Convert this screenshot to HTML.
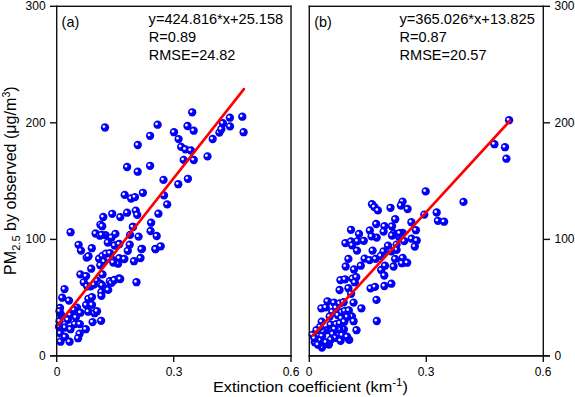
<!DOCTYPE html>
<html><head><meta charset="utf-8"><style>
html,body{margin:0;padding:0;background:#fff;}
svg{display:block;}
text{font-family:"Liberation Sans",sans-serif;fill:#000;}
</style></head><body>
<svg width="575" height="397" viewBox="0 0 575 397">
<defs>
<radialGradient id="g" cx="0.5" cy="0.5" r="0.5" fx="0.4" fy="0.4">
<stop offset="0" stop-color="#0000ff"/>
<stop offset="0.8" stop-color="#0000fa"/>
<stop offset="1" stop-color="#0000ea"/>
</radialGradient>
<radialGradient id="h" cx="0.5" cy="0.5" r="0.5">
<stop offset="0" stop-color="#fff" stop-opacity="1"/>
<stop offset="0.45" stop-color="#fff" stop-opacity="0.95"/>
<stop offset="1" stop-color="#fff" stop-opacity="0"/>
</radialGradient>
<symbol id="s" overflow="visible"><circle cx="0" cy="0.2" r="4.15" fill="url(#g)"/><circle cx="-1.1" cy="-0.7" r="1.9" fill="url(#h)"/></symbol>
</defs>
<rect width="575" height="397" fill="#fff"/>
<!-- points -->
<g><use href="#s" x="105.0" y="127.3"/><use href="#s" x="157.6" y="124.5"/><use href="#s" x="150.1" y="135.6"/><use href="#s" x="137.8" y="144.8"/><use href="#s" x="192.2" y="112.1"/><use href="#s" x="187.5" y="125.8"/><use href="#s" x="193.7" y="130.5"/><use href="#s" x="174.0" y="132.0"/><use href="#s" x="178.6" y="138.9"/><use href="#s" x="181.2" y="146.7"/><use href="#s" x="185.5" y="149.2"/><use href="#s" x="190.9" y="150.3"/><use href="#s" x="183.7" y="159.7"/><use href="#s" x="193.8" y="159.8"/><use href="#s" x="207.5" y="156.2"/><use href="#s" x="212.7" y="138.8"/><use href="#s" x="219.4" y="132.4"/><use href="#s" x="221.3" y="129.0"/><use href="#s" x="222.9" y="123.0"/><use href="#s" x="229.9" y="117.5"/><use href="#s" x="230.0" y="126.2"/><use href="#s" x="242.3" y="116.5"/><use href="#s" x="243.6" y="132.0"/><use href="#s" x="127.1" y="166.8"/><use href="#s" x="137.7" y="171.5"/><use href="#s" x="150.1" y="165.6"/><use href="#s" x="163.5" y="179.7"/><use href="#s" x="178.3" y="184.0"/><use href="#s" x="187.9" y="178.6"/><use href="#s" x="124.7" y="194.7"/><use href="#s" x="131.1" y="198.3"/><use href="#s" x="135.0" y="196.9"/><use href="#s" x="142.9" y="192.6"/><use href="#s" x="164.0" y="195.2"/><use href="#s" x="167.2" y="204.2"/><use href="#s" x="112.2" y="213.6"/><use href="#s" x="103.3" y="216.8"/><use href="#s" x="120.3" y="216.9"/><use href="#s" x="127.1" y="212.5"/><use href="#s" x="135.8" y="210.4"/><use href="#s" x="137.2" y="214.7"/><use href="#s" x="158.4" y="213.5"/><use href="#s" x="100.4" y="224.4"/><use href="#s" x="102.2" y="226.0"/><use href="#s" x="151.1" y="222.5"/><use href="#s" x="133.0" y="226.6"/><use href="#s" x="150.6" y="230.8"/><use href="#s" x="156.7" y="235.8"/><use href="#s" x="160.7" y="246.1"/><use href="#s" x="155.4" y="248.8"/><use href="#s" x="142.0" y="248.6"/><use href="#s" x="70.6" y="232.0"/><use href="#s" x="95.6" y="233.3"/><use href="#s" x="99.9" y="235.5"/><use href="#s" x="105.5" y="234.9"/><use href="#s" x="115.4" y="233.7"/><use href="#s" x="111.6" y="237.4"/><use href="#s" x="107.8" y="242.3"/><use href="#s" x="78.6" y="244.6"/><use href="#s" x="81.0" y="250.4"/><use href="#s" x="91.8" y="248.0"/><use href="#s" x="86.7" y="257.4"/><use href="#s" x="88.5" y="256.0"/><use href="#s" x="99.1" y="258.5"/><use href="#s" x="102.5" y="255.7"/><use href="#s" x="105.9" y="253.5"/><use href="#s" x="109.9" y="252.9"/><use href="#s" x="114.6" y="245.3"/><use href="#s" x="118.8" y="244.0"/><use href="#s" x="104.2" y="261.4"/><use href="#s" x="116.7" y="260.8"/><use href="#s" x="132.9" y="226.8"/><use href="#s" x="138.6" y="236.4"/><use href="#s" x="130.1" y="234.7"/><use href="#s" x="101.7" y="234.7"/><use href="#s" x="119.3" y="243.8"/><use href="#s" x="129.7" y="244.5"/><use href="#s" x="127.8" y="250.6"/><use href="#s" x="141.4" y="248.9"/><use href="#s" x="155.6" y="248.9"/><use href="#s" x="112.5" y="259.7"/><use href="#s" x="119.3" y="258.0"/><use href="#s" x="124.4" y="258.8"/><use href="#s" x="134.0" y="261.0"/><use href="#s" x="140.5" y="257.8"/><use href="#s" x="118.1" y="263.5"/><use href="#s" x="91.2" y="268.5"/><use href="#s" x="80.4" y="274.2"/><use href="#s" x="86.1" y="275.9"/><use href="#s" x="83.8" y="282.1"/><use href="#s" x="87.2" y="286.1"/><use href="#s" x="90.6" y="286.1"/><use href="#s" x="100.3" y="265.1"/><use href="#s" x="102.5" y="274.2"/><use href="#s" x="96.9" y="280.4"/><use href="#s" x="94.0" y="284.4"/><use href="#s" x="100.8" y="283.8"/><use href="#s" x="101.4" y="291.8"/><use href="#s" x="106.5" y="288.4"/><use href="#s" x="109.9" y="281.0"/><use href="#s" x="111.6" y="282.7"/><use href="#s" x="114.4" y="279.8"/><use href="#s" x="119.0" y="278.1"/><use href="#s" x="113.3" y="262.3"/><use href="#s" x="64.5" y="288.9"/><use href="#s" x="62.2" y="297.5"/><use href="#s" x="69.0" y="300.4"/><use href="#s" x="88.4" y="298.6"/><use href="#s" x="92.0" y="296.9"/><use href="#s" x="86.1" y="304.8"/><use href="#s" x="92.0" y="304.7"/><use href="#s" x="120.2" y="278.8"/><use href="#s" x="136.5" y="282.0"/><use href="#s" x="108.2" y="289.7"/><use href="#s" x="102.1" y="285.1"/><use href="#s" x="60.0" y="307.8"/><use href="#s" x="61.0" y="314.4"/><use href="#s" x="70.2" y="314.7"/><use href="#s" x="67.9" y="319.6"/><use href="#s" x="77.0" y="307.4"/><use href="#s" x="80.5" y="312.5"/><use href="#s" x="88.3" y="311.5"/><use href="#s" x="94.6" y="313.0"/><use href="#s" x="101.4" y="295.6"/><use href="#s" x="92.6" y="321.9"/><use href="#s" x="101.1" y="320.6"/><use href="#s" x="74.9" y="323.9"/><use href="#s" x="79.8" y="323.9"/><use href="#s" x="65.1" y="327.3"/><use href="#s" x="70.5" y="329.0"/><use href="#s" x="85.8" y="329.0"/><use href="#s" x="60.3" y="333.2"/><use href="#s" x="65.1" y="336.7"/><use href="#s" x="60.6" y="341.5"/><use href="#s" x="69.6" y="341.5"/><use href="#s" x="79.6" y="333.5"/><use href="#s" x="78.1" y="338.0"/><use href="#s" x="59.5" y="311.0"/><use href="#s" x="74.1" y="309.6"/><use href="#s" x="97.0" y="311.0"/><use href="#s" x="75.9" y="317.2"/><use href="#s" x="59.5" y="321.0"/><use href="#s" x="59.0" y="326.5"/></g>
<g><use href="#s" x="509.1" y="120.0"/><use href="#s" x="494.4" y="144.0"/><use href="#s" x="505.0" y="147.0"/><use href="#s" x="506.4" y="158.5"/><use href="#s" x="425.7" y="191.2"/><use href="#s" x="463.5" y="201.7"/><use href="#s" x="402.6" y="201.4"/><use href="#s" x="400.9" y="205.3"/><use href="#s" x="407.6" y="208.8"/><use href="#s" x="390.5" y="207.6"/><use href="#s" x="372.0" y="204.0"/><use href="#s" x="374.4" y="206.8"/><use href="#s" x="377.9" y="210.2"/><use href="#s" x="424.3" y="214.4"/><use href="#s" x="436.7" y="212.3"/><use href="#s" x="437.9" y="220.6"/><use href="#s" x="444.1" y="221.5"/><use href="#s" x="395.2" y="219.0"/><use href="#s" x="411.4" y="222.0"/><use href="#s" x="415.9" y="230.0"/><use href="#s" x="376.2" y="223.8"/><use href="#s" x="384.5" y="226.0"/><use href="#s" x="392.0" y="226.1"/><use href="#s" x="383.6" y="231.4"/><use href="#s" x="369.8" y="230.3"/><use href="#s" x="393.8" y="233.1"/><use href="#s" x="392.0" y="235.3"/><use href="#s" x="402.6" y="232.6"/><use href="#s" x="399.1" y="236.7"/><use href="#s" x="399.7" y="233.0"/><use href="#s" x="376.7" y="237.4"/><use href="#s" x="371.6" y="236.2"/><use href="#s" x="411.6" y="238.5"/><use href="#s" x="416.7" y="240.3"/><use href="#s" x="351.0" y="229.6"/><use href="#s" x="359.0" y="233.7"/><use href="#s" x="345.4" y="242.9"/><use href="#s" x="351.0" y="241.3"/><use href="#s" x="352.1" y="245.1"/><use href="#s" x="357.5" y="240.9"/><use href="#s" x="363.8" y="240.6"/><use href="#s" x="357.0" y="250.4"/><use href="#s" x="372.6" y="250.4"/><use href="#s" x="383.5" y="251.2"/><use href="#s" x="388.0" y="245.5"/><use href="#s" x="348.4" y="258.7"/><use href="#s" x="345.7" y="266.3"/><use href="#s" x="354.0" y="269.3"/><use href="#s" x="360.8" y="265.5"/><use href="#s" x="364.6" y="258.4"/><use href="#s" x="369.6" y="259.9"/><use href="#s" x="375.6" y="258.7"/><use href="#s" x="380.8" y="255.7"/><use href="#s" x="385.0" y="265.5"/><use href="#s" x="381.2" y="269.8"/><use href="#s" x="384.3" y="275.3"/><use href="#s" x="340.4" y="279.9"/><use href="#s" x="345.0" y="279.1"/><use href="#s" x="352.5" y="278.4"/><use href="#s" x="356.3" y="276.9"/><use href="#s" x="354.8" y="282.2"/><use href="#s" x="348.4" y="288.0"/><use href="#s" x="339.6" y="289.8"/><use href="#s" x="370.6" y="288.2"/><use href="#s" x="375.0" y="286.7"/><use href="#s" x="384.4" y="285.8"/><use href="#s" x="404.2" y="240.9"/><use href="#s" x="414.8" y="246.3"/><use href="#s" x="396.6" y="244.4"/><use href="#s" x="396.6" y="249.7"/><use href="#s" x="391.3" y="251.2"/><use href="#s" x="395.1" y="258.7"/><use href="#s" x="402.7" y="257.7"/><use href="#s" x="401.9" y="263.0"/><use href="#s" x="407.2" y="262.5"/><use href="#s" x="393.6" y="266.3"/><use href="#s" x="391.4" y="283.5"/><use href="#s" x="351.1" y="293.6"/><use href="#s" x="327.5" y="301.1"/><use href="#s" x="334.0" y="302.4"/><use href="#s" x="339.7" y="303.3"/><use href="#s" x="343.6" y="302.0"/><use href="#s" x="353.6" y="302.4"/><use href="#s" x="321.4" y="308.1"/><use href="#s" x="325.8" y="307.2"/><use href="#s" x="361.4" y="308.1"/><use href="#s" x="332.3" y="311.6"/><use href="#s" x="338.0" y="315.0"/><use href="#s" x="341.9" y="312.0"/><use href="#s" x="344.9" y="310.7"/><use href="#s" x="348.8" y="310.3"/><use href="#s" x="351.9" y="316.3"/><use href="#s" x="347.1" y="316.8"/><use href="#s" x="329.7" y="316.3"/><use href="#s" x="341.4" y="318.1"/><use href="#s" x="336.0" y="307.5"/><use href="#s" x="376.5" y="299.7"/><use href="#s" x="321.7" y="321.5"/><use href="#s" x="330.6" y="324.4"/><use href="#s" x="336.2" y="324.0"/><use href="#s" x="339.9" y="323.1"/><use href="#s" x="344.3" y="321.5"/><use href="#s" x="353.6" y="321.0"/><use href="#s" x="356.5" y="330.0"/><use href="#s" x="343.9" y="329.2"/><use href="#s" x="339.5" y="329.6"/><use href="#s" x="334.6" y="328.8"/><use href="#s" x="326.5" y="330.0"/><use href="#s" x="323.3" y="331.2"/><use href="#s" x="320.1" y="326.8"/><use href="#s" x="316.5" y="330.0"/><use href="#s" x="332.8" y="333.8"/><use href="#s" x="342.2" y="335.0"/><use href="#s" x="335.4" y="337.7"/><use href="#s" x="330.8" y="339.5"/><use href="#s" x="340.6" y="340.6"/><use href="#s" x="349.2" y="339.7"/><use href="#s" x="347.1" y="336.5"/><use href="#s" x="322.1" y="336.0"/><use href="#s" x="320.1" y="340.1"/><use href="#s" x="314.8" y="342.0"/><use href="#s" x="328.9" y="344.4"/><use href="#s" x="326.1" y="342.1"/><use href="#s" x="322.0" y="347.4"/><use href="#s" x="312.6" y="334.6"/><use href="#s" x="314.5" y="338.0"/><use href="#s" x="318.0" y="344.5"/><use href="#s" x="376.8" y="320.8"/></g>
<!-- regression lines -->
<g stroke="#ff0000" stroke-width="2.6" stroke-linecap="round">
<line x1="57.6" y1="325.4" x2="243.9" y2="89.1"/>
<line x1="312.9" y1="335.5" x2="509.8" y2="121.0"/>
</g>
<!-- frames -->
<g fill="#111">
<rect x="56.0" y="5.6" width="1.4" height="351.3"/>
<rect x="290.3" y="5.6" width="1.4" height="351.3"/>
<rect x="50.0" y="5.6" width="241.7" height="1.4"/>
<rect x="50.0" y="355.0" width="241.7" height="1.8"/>
<rect x="50.0" y="238.70" width="6.5" height="1.4"/>
<rect x="50.0" y="122.10" width="6.5" height="1.4"/>
<rect x="56.0" y="356" width="1.4" height="6"/>
<rect x="173.0" y="356" width="1.4" height="6"/>
<rect x="290.3" y="356" width="1.4" height="6"/>
<rect x="308.6" y="5.6" width="1.4" height="351.3"/>
<rect x="542.6" y="5.6" width="1.4" height="351.3"/>
<rect x="308.6" y="5.6" width="241.4" height="1.4"/>
<rect x="308.6" y="355.0" width="241.4" height="1.8"/>
<rect x="543.5" y="238.70" width="6.5" height="1.4"/>
<rect x="543.5" y="122.10" width="6.5" height="1.4"/>
<rect x="308.6" y="356" width="1.4" height="6"/>
<rect x="425.6" y="356" width="1.4" height="6"/>
<rect x="542.6" y="356" width="1.4" height="6"/>
</g>
<!-- tick labels -->
<g font-size="12" text-anchor="end">
<text x="45.6" y="359.8">0</text>
<text x="45.6" y="243.2">100</text>
<text x="45.6" y="126.6">200</text>
<text x="45.6" y="10.0">300</text>
</g>
<g font-size="12" text-anchor="start">
<text x="554.5" y="359.8">0</text>
<text x="554.5" y="243.2">100</text>
<text x="554.5" y="126.6">200</text>
<text x="554.5" y="10.0">300</text>
</g>
<g font-size="12" text-anchor="middle">
<text x="57" y="376">0</text>
<text x="174" y="376">0.3</text>
<text x="291" y="376">0.6</text>
<text x="309" y="376">0</text>
<text x="426" y="376">0.3</text>
<text x="543" y="376">0.6</text>
</g>
<!-- panel labels -->
<g font-size="14.5" lengthAdjust="spacingAndGlyphs">
<text x="61.6" y="26.6" textLength="17.6" lengthAdjust="spacingAndGlyphs">(a)</text>
<text x="314.2" y="26.6" textLength="17.6" lengthAdjust="spacingAndGlyphs">(b)</text>
</g>
<g font-size="14.3">
<text x="148.6" y="23.9" textLength="134.6" lengthAdjust="spacingAndGlyphs">y=424.816*x+25.158</text>
<text x="148.8" y="41.7" textLength="47.4" lengthAdjust="spacingAndGlyphs">R=0.89</text>
<text x="148.8" y="59.8" textLength="86.6" lengthAdjust="spacingAndGlyphs">RMSE=24.82</text>
<text x="399.4" y="23.9" textLength="135.4" lengthAdjust="spacingAndGlyphs">y=365.026*x+13.825</text>
<text x="399.5" y="41.7" textLength="47.2" lengthAdjust="spacingAndGlyphs">R=0.87</text>
<text x="399.5" y="59.8" textLength="87.0" lengthAdjust="spacingAndGlyphs">RMSE=20.57</text>
</g>
<!-- axis titles -->
<text x="213.0" y="392.4" font-size="15.4" textLength="195" lengthAdjust="spacingAndGlyphs">Extinction coefficient (km<tspan font-size="11" dy="-6.5">-1</tspan><tspan dy="6.5">)</tspan></text>
<text transform="translate(15.9,274.9) rotate(-90)" font-size="16" textLength="188.5" lengthAdjust="spacingAndGlyphs">PM<tspan font-size="11" dy="4">2.5</tspan><tspan dy="-4"> by observed (μg/m</tspan><tspan font-size="10.5" dy="-6">3</tspan><tspan dy="6">)</tspan></text>
</svg>
</body></html>
